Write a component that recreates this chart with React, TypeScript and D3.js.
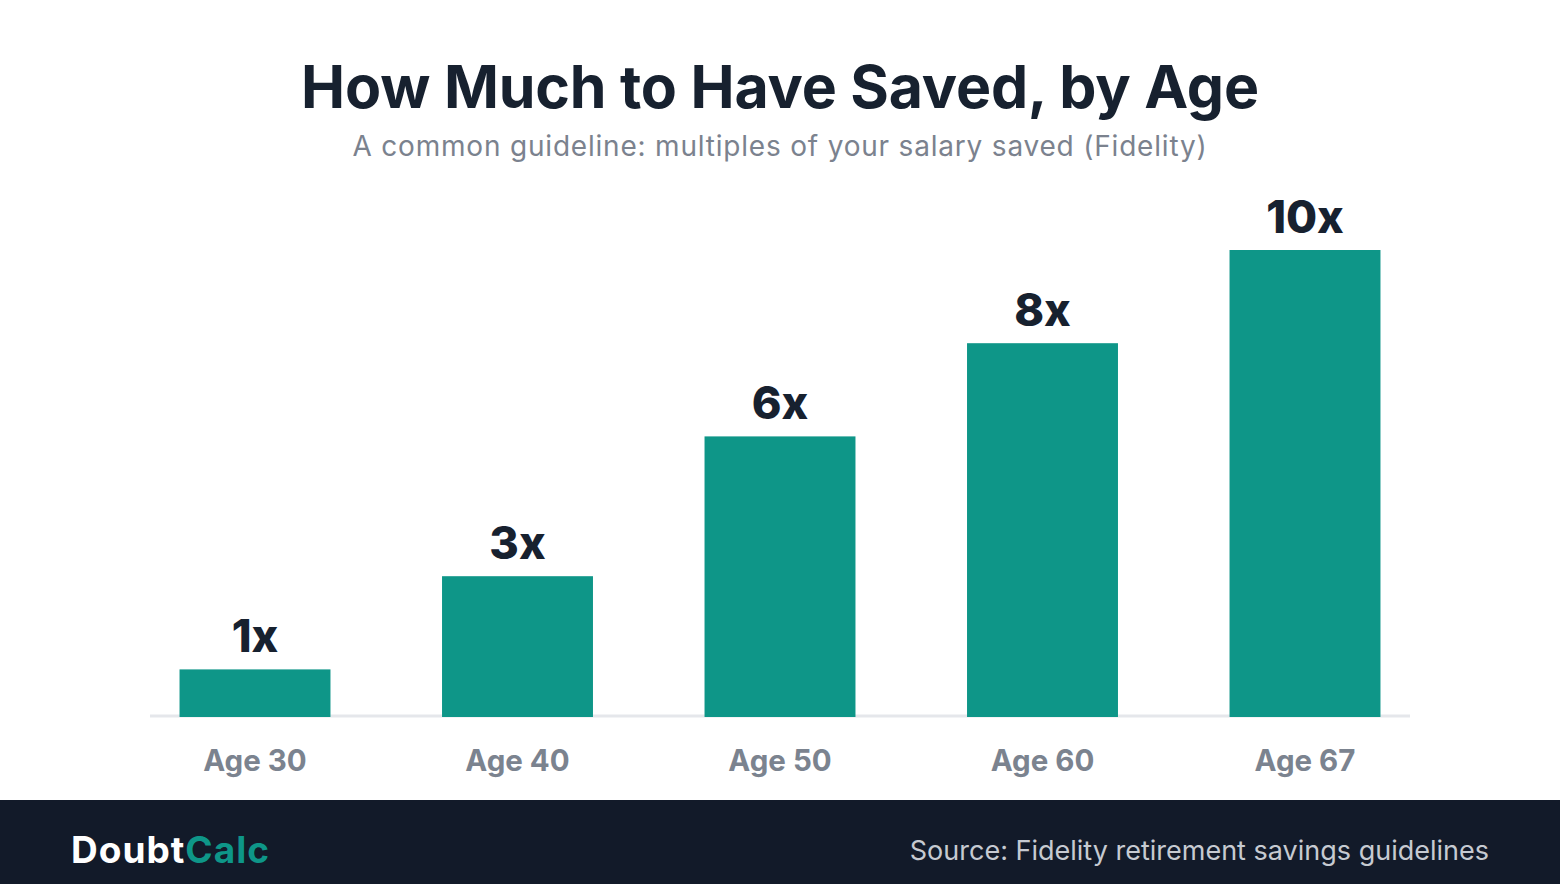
import React, { useRef, useEffect } from "react";
import * as d3 from "d3";

const ages = ["Age 30", "Age 40", "Age 50", "Age 60", "Age 67"];
const multiples = [1, 3, 6, 8, 10];
const valueLabels = ["1x", "3x", "6x", "8x", "10x"];

const TEAL = "#0e9688";
const DARK = "#17212f";
const FONT = "Inter, 'Noto Sans', sans-serif";

const App = () => {
    const svgRef = useRef(null);

    useEffect(() => {
        const width = 1560;
        const height = 884;

        const svg = d3.select(svgRef.current).attr("width", width).attr("height", height);
        svg.selectAll("*").remove();

        svg.append("rect").attr("width", width).attr("height", height).attr("fill", "#ffffff");

        // title + subtitle
        svg.append("text")
            .attr("x", 780)
            .attr("y", 108)
            .attr("text-anchor", "middle")
            .attr("font-family", FONT)
            .attr("font-weight", 700)
            .attr("font-size", 59)
            .attr("letter-spacing", -0.2)
            .attr("fill", DARK)
            .text("How Much to Have Saved, by Age");

        svg.append("text")
            .attr("x", 780)
            .attr("y", 156)
            .attr("text-anchor", "middle")
            .attr("font-family", FONT)
            .attr("font-size", 28)
            .attr("letter-spacing", 0.8)
            .attr("fill", "#7b828e")
            .text("A common guideline: multiples of your salary saved (Fidelity)");

        const x = d3.scaleBand().domain(ages).range([123.75, 1436.25]).paddingInner(0.425).paddingOuter(0.2125);
        const y = d3.scaleLinear().domain([0, 10]).range([716, 250]);

        // baseline
        svg.append("line")
            .attr("x1", 150)
            .attr("x2", 1410)
            .attr("y1", y(0))
            .attr("y2", y(0))
            .attr("stroke", "#e5e7eb")
            .attr("stroke-width", 3);

        const data = ages.map((a, i) => ({ age: a, v: multiples[i], label: valueLabels[i] }));

        svg.selectAll(".bar")
            .data(data)
            .enter()
            .append("rect")
            .attr("class", "bar")
            .attr("x", (d: any) => x(d.age))
            .attr("y", (d: any) => y(d.v))
            .attr("width", x.bandwidth())
            .attr("height", (d: any) => y(0) - y(d.v) + 1)
            .attr("fill", TEAL);

        svg.selectAll(".val")
            .data(data)
            .enter()
            .append("text")
            .attr("class", "val")
            .attr("x", (d: any) => (x(d.age) as number) + x.bandwidth() / 2)
            .attr("y", (d: any) => y(d.v) - 17)
            .attr("text-anchor", "middle")
            .attr("font-family", FONT)
            .attr("font-weight", 800)
            .attr("font-size", 45)
            .attr("fill", DARK)
            .text((d: any) => d.label);

        // category labels
        svg.selectAll(".cat")
            .data(ages)
            .enter()
            .append("text")
            .attr("class", "cat")
            .attr("x", (d: any) => (x(d) as number) + x.bandwidth() / 2)
            .attr("y", 771)
            .attr("text-anchor", "middle")
            .attr("font-family", FONT)
            .attr("font-weight", 700)
            .attr("font-size", 29.5)
            .attr("fill", "#7b838f")
            .text((d: any) => d);

        // footer
        svg.append("rect").attr("x", 0).attr("y", 800).attr("width", width).attr("height", 84).attr("fill", "#121a29");

        const brand = svg.append("text")
            .attr("x", 71)
            .attr("y", 863)
            .attr("font-family", FONT)
            .attr("font-weight", 700)
            .attr("font-size", 37)
            .attr("letter-spacing", 1);
        brand.append("tspan").attr("fill", "#ffffff").text("Doubt");
        brand.append("tspan").attr("fill", TEAL).text("Calc");

        svg.append("text")
            .attr("x", 1489)
            .attr("y", 860)
            .attr("text-anchor", "end")
            .attr("font-family", FONT)
            .attr("font-size", 27)
            .attr("fill", "#c6cad1")
            .text("Source: Fidelity retirement savings guidelines");
    }, []);

    return (
        <div style={{ position: "absolute", left: 0, top: 0 }}>
            <svg ref={svgRef} style={{ display: "block" }}></svg>
        </div>
    );
};

export default App;
